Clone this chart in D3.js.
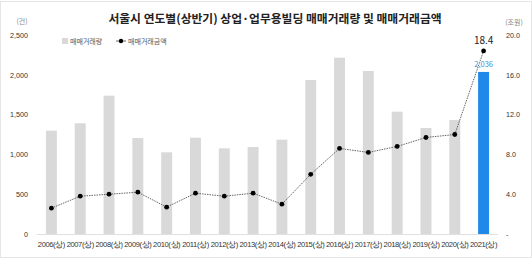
<!DOCTYPE html>
<html>
<head>
<meta charset="utf-8">
<script src="https://cdn.jsdelivr.net/npm/d3@7"></script>
<style>
  body { margin: 0; background: #fff; }
  svg { font-family: "Noto Sans CJK KR", "Noto Sans", sans-serif; }
</style>
</head>
<body>
<div id="chart"></div>
<script>
// 데이터
const years = ['2006(상)', '2007(상)', '2008(상)', '2009(상)', '2010(상)', '2011(상)', '2012(상)', '2013(상)',
    '2014(상)', '2015(상)', '2016(상)', '2017(상)', '2018(상)', '2019(상)', '2020(상)', '2021(상)']
const volume = [1298, 1391, 1738, 1206, 1026, 1210, 1076, 1093, 1185, 1935, 2215, 2048, 1537, 1332, 1432, 2036]
const amount = [2.6, 3.8, 4.0, 4.2, 2.7, 4.1, 3.8, 4.1, 3.0, 6.0, 8.6, 8.2, 8.8, 9.7, 10.0, 18.4]
const leftTicks = [0, 500, 1000, 1500, 2000, 2500]
const rightTicks = [0, 4, 8, 12, 16, 20]

const width = 532, height = 262
const margin = { top: 35, bottom: 28, left: 37, right: 34 }

const svg = d3.select('#chart').append('svg')
    .attr('width', width).attr('height', height)

// 테두리
svg.append('rect')
    .attr('x', 0.5).attr('y', 1.5).attr('width', width - 1).attr('height', 256)
    .attr('fill', 'none').attr('stroke', '#e6e6e6')

const x = d3.scaleBand().domain(years)
    .range([margin.left, width - margin.right]).paddingInner(0.62).paddingOuter(0.31)
const yL = d3.scaleLinear([0, 2500], [height - margin.bottom, margin.top])
const yR = d3.scaleLinear([0, 20], [height - margin.bottom, margin.top])

// 제목
svg.append('text').attr('x', 275).attr('y', 23)
    .attr('text-anchor', 'middle').style('font-size', '11.8px').style('font-weight', 'bold')
    .attr('fill', '#222').text('서울시 연도별(상반기) 상업·업무용빌딩 매매거래량 및 매매거래금액')

// 축 단위
svg.append('text').attr('x', 22).attr('y', 24).attr('text-anchor', 'middle')
    .style('font-size', '7px').attr('fill', '#888').text('(건)')
svg.append('text').attr('x', 514).attr('y', 25).attr('text-anchor', 'middle')
    .style('font-size', '7px').attr('fill', '#888').text('(조원)')

// 왼쪽 축
const leftAxis = d3.axisLeft(yL).tickValues(leftTicks).tickFormat(d3.format(',')).tickSize(0)
svg.append('g').attr('transform', `translate(${margin.left - 9},0)`).call(leftAxis)
    .call(g => g.select('.domain').remove())
    .call(g => g.selectAll('text').style('font-size', '7.2px').attr('fill', '#333').attr('x', 0))

// 오른쪽 축
const rightAxis = d3.axisRight(yR).tickValues(rightTicks)
    .tickFormat(d => d === 0 ? '-' : d3.format('.1f')(d)).tickSize(0)
svg.append('g').attr('transform', `translate(${width - margin.right + 8},0)`).call(rightAxis)
    .call(g => g.select('.domain').remove())
    .call(g => g.selectAll('text').style('font-size', '7.2px').attr('fill', '#333').attr('x', 0))

// 기준선
svg.append('line')
    .attr('x1', margin.left).attr('x2', width - margin.right)
    .attr('y1', yL(0) + 0.5).attr('y2', yL(0) + 0.5)
    .attr('stroke', '#e0e0e0')

// X축
const xAxis = d3.axisBottom(x).tickSize(0)
svg.append('g').attr('transform', `translate(0,${yL(0) + 5})`).call(xAxis)
    .call(g => g.select('.domain').remove())
    .call(g => g.selectAll('text').style('font-size', '7.6px').style('letter-spacing', '-0.4px').attr('fill', '#333'))

// 막대
svg.append('g').selectAll('rect').data(years).join('rect')
    .attr('x', d => x(d)).attr('width', x.bandwidth())
    .attr('y', (d, i) => yL(volume[i]))
    .attr('height', (d, i) => yL(0) - yL(volume[i]))
    .attr('fill', (d, i) => i === years.length - 1 ? '#1f88e8' : '#d9d9d9')

const last = years.length - 1
svg.append('text').attr('x', x(years[last]) + x.bandwidth() / 2).attr('y', yL(volume[last]) - 5)
    .attr('text-anchor', 'middle').style('font-size', '7.5px').attr('fill', '#3d8fd6')
    .text(d3.format(',')(volume[last]))

// 선
const line = d3.line()
    .x((d, i) => x(years[i]) + x.bandwidth() / 2)
    .y(d => yR(d))
svg.append('path').datum(amount).attr('d', line)
    .attr('fill', 'none').attr('stroke', '#555').attr('stroke-width', 0.9)
    .attr('stroke-dasharray', '1.5,1')
svg.append('g').selectAll('circle').data(amount).join('circle')
    .attr('cx', (d, i) => x(years[i]) + x.bandwidth() / 2)
    .attr('cy', d => yR(d)).attr('r', 2.4).attr('fill', '#000')

svg.append('text').attr('x', x(years[last]) + x.bandwidth() / 2).attr('y', yR(amount[last]) - 7)
    .attr('text-anchor', 'middle').style('font-size', '10px').attr('fill', '#222')
    .text(d3.format('.1f')(amount[last]))

// 범례
const legend = svg.append('g').attr('transform', 'translate(62,41)')
legend.append('rect').attr('x', 0).attr('y', -3).attr('width', 6).attr('height', 6).attr('fill', '#d9d9d9')
legend.append('text').attr('x', 8).attr('y', 2.5).style('font-size', '7px').attr('fill', '#555').text('매매거래량')
legend.append('line').attr('x1', 54).attr('x2', 64).attr('y1', 0).attr('y2', 0).attr('stroke', '#555').attr('stroke-width', 0.9)
legend.append('circle').attr('cx', 59).attr('cy', 0).attr('r', 2.2).attr('fill', '#000')
legend.append('text').attr('x', 66).attr('y', 2.5).style('font-size', '7px').attr('fill', '#555').text('매매거래금액')
</script>
</body>
</html>
